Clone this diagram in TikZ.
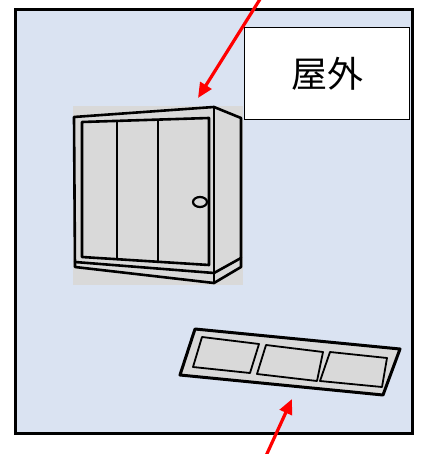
\documentclass[tikz,border=0pt]{standalone}
\usepackage{fontspec}
\newfontfamily\jpfont{Noto Sans CJK JP}
\usetikzlibrary{arrows.meta}
\definecolor{skyfill}{HTML}{DAE3F2}
\definecolor{unitgrey}{HTML}{D9D9D9}
\tikzset{
  frame/.style={draw=black, line width=3pt, fill=skyfill},
  labelbox/.style={draw=black, line width=1pt, fill=white, minimum width=165pt, minimum height=92pt, inner sep=0pt},
  heavy/.style={draw=black, line width=2.6pt, line join=round, line cap=round},
  thinline/.style={draw=black, line width=1.8pt, line join=round},
  pointer/.style={draw=red, line width=3.2pt, -{Triangle[length=15pt,width=13pt]}},
}
\begin{document}
\begin{tikzpicture}[x=1pt,y=-1pt]
\useasboundingbox (0,0) rectangle (425,454);
\clip (0,0) rectangle (425,454);

% outdoor area
\draw[frame] (15,10) rectangle (412,433);

% label
\node[labelbox, anchor=north west] (lbl) at (244,27) {\jpfont\fontsize{36pt}{36pt}\selectfont 屋外};

% storage cabinet
\fill[unitgrey] (73,106) rectangle (243,285);
\draw[heavy] (74,117) -- (214,107) -- (241,118) -- (241,267) -- (214,283) -- (75,267) -- cycle;
\draw[heavy] (214,107) -- (214,283);
\draw[heavy] (75,262) -- (214,273) -- (241,258);
\draw[heavy] (82,122) -- (209,118) -- (209,265) -- (82,257) -- cycle;
\draw[heavy] (117,121) -- (117,259);
\draw[heavy] (158,120) -- (158,262);
\draw[black, line width=2.2pt] (200,202) ellipse (7pt and 5pt);
\coordinate (cabTip) at (198,98);

% floor grate
\draw[frame, fill=unitgrey, line join=round] (195,329) -- (400,349) -- (383,395) -- (180,375) -- cycle;
\draw[thinline, fill=unitgrey] (202,337) -- (259,344) -- (250,373) -- (193,367) -- cycle;
\draw[thinline, fill=unitgrey] (266,345) -- (323,352) -- (317,381) -- (257,374) -- cycle;
\draw[thinline, fill=unitgrey] (330,352) -- (387,358) -- (382,387) -- (320,381) -- cycle;
\coordinate (grateTip) at (292,399);

% pointers
\coordinate (topStart) at (262,-4);
\coordinate (bottomStart) at (265,458);
\draw[pointer] (topStart) -- (cabTip);
\draw[pointer] (bottomStart) -- (grateTip);
\end{tikzpicture}
\end{document}
